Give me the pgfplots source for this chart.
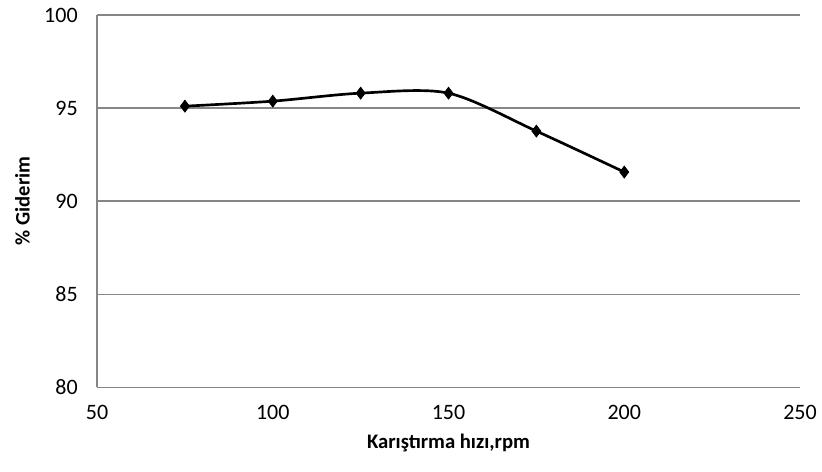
\documentclass[border=0pt]{standalone}
\usepackage{fontspec}
\setmainfont{Carlito}
\usepackage{pgfplots}
\pgfplotsset{compat=1.18}
\definecolor{gridgray}{HTML}{868686}
\begin{document}
\begin{tikzpicture}
\begin{axis}[
  scale only axis,
  width=527pt, height=279pt,
  xmin=50, xmax=250, ymin=80, ymax=100,
  xtick={50,100,...,250}, ytick={80,85,...,100},
  axis lines=left,
  axis line style={-, draw=gridgray, line width=0.9pt},
  ymajorgrids, major grid style={draw=gridgray, line width=0.9pt},
  major tick length=0pt,
  tick label style={font=\fontsize{16.5}{19}\selectfont},
  /pgf/number format/assume math mode=true,
  xticklabel style={yshift=-10pt},
  yticklabel style={xshift=-11pt},
  xlabel={\bfseries Karıştırma hızı,rpm},
  ylabel={\bfseries \% Giderim},
  label style={font=\fontsize{15.5}{18}\selectfont},
  xlabel style={yshift=-4pt},
  ylabel style={yshift=4pt},
  clip=false,
]
\addplot[black, line width=2pt, smooth, tension=0.5,
  mark=diamond*, mark size=4.5pt, mark options={solid, line width=0.5pt}]
  coordinates {
    (75,95.1) (100,95.37) (125,95.8) (150,95.8) (175,93.76) (200,91.56)
  };
\path (rel axis cs:0,0) ++(-72.75pt,-63pt) coordinate (bbsw);
\path (rel axis cs:1,1) ++(16.5pt,11.25pt) coordinate (bbne);
\path (bbsw) rectangle (bbne);
\end{axis}
\end{tikzpicture}
\end{document}
